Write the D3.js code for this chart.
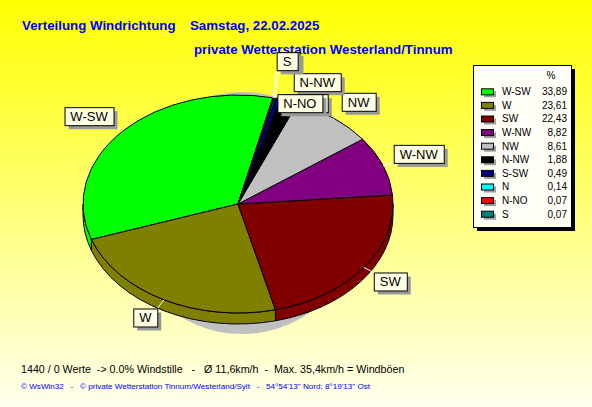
<!DOCTYPE html>
<html><head><meta charset="utf-8">
<script src="https://cdn.jsdelivr.net/npm/d3@7"></script>
<style>html,body{margin:0;padding:0;overflow:hidden;background:#fff}svg{display:block}text{white-space:pre}</style>
</head><body>
<svg id="c" width="592" height="407"></svg>
<script>
// ---- data ----
const categories = ["W-SW","W","SW","W-NW","NW","N-NW","S-SW","N","N-NO","S"];
const values = [33.89,23.61,22.43,8.82,8.61,1.88,0.49,0.14,0.07,0.07];
const colors = ["#00FF00","#808000","#800000","#800080","#C0C0C0","#000000","#000080","#00FFFF","#FF0000","#008080"];
const titleLeft = "Verteilung Windrichtung";
const titleDate = "Samstag, 22.02.2025";
const subtitle = "private Wetterstation Westerland/Tinnum";
const legendHeader = "%";
const footer = "1440 / 0 Werte  -> 0.0% Windstille   -   Ø 11,6km/h  -  Max. 35,4km/h = Windböen";
const copyright = "© WsWin32   -   © private Wetterstation Tinnum/Westerland/Sylt   -   54°54'13\" Nord; 8°19'13\" Ost";

// ---- setup ----
const W = 592, H = 407;
const FONT = "'Liberation Sans', Arial, sans-serif";
const svg = d3.select("#c");
const defs = svg.append("defs");
const grad = defs.append("linearGradient").attr("id","bg").attr("x1",0).attr("y1",0).attr("x2",0).attr("y2",1);
grad.append("stop").attr("offset","0%").attr("stop-color","#FFFF00");
grad.append("stop").attr("offset","100%").attr("stop-color","#FFFFEE");
svg.append("rect").attr("width",W).attr("height",H).attr("fill","url(#bg)");

// titles
svg.append("text").attr("x",22).attr("y",30).attr("font-family",FONT).attr("font-weight","bold")
  .attr("font-size",13.3).attr("fill","#0000FF").text(titleLeft);
svg.append("text").attr("x",190).attr("y",30).attr("font-family",FONT).attr("font-weight","bold")
  .attr("font-size",13.3).attr("fill","#0000FF").text(titleDate);
svg.append("text").attr("x",194).attr("y",54).attr("font-family",FONT).attr("font-weight","bold")
  .attr("font-size",13.3).attr("fill","#0000FF").text(subtitle);

// ---- pie ----
const cx = 238, cy = 204, rx = 155, ry = 109, depth = 11, R = 100;
const start = 13 * Math.PI / 180;
const data = categories.map((c,i)=>({name:c, v:values[i], color:colors[i]}));
const pie = d3.pie().sort(null).value(d=>d.v).startAngle(start).endAngle(start - 2*Math.PI);
const arcs = pie(data);
const arc = d3.arc().innerRadius(0).outerRadius(R);
function P(a, dy=0){ return [cx + rx*Math.sin(a), cy - ry*Math.cos(a) + dy]; }

// shadow
svg.append("ellipse").attr("cx",cx+4).attr("cy",cy+9).attr("rx",120).attr("ry",ry+12).attr("fill","#C0C0C0");

// sides (front half only)
const segs = [];
arcs.forEach(a=>{
  const lo = Math.min(a.startAngle,a.endAngle), hi = Math.max(a.startAngle,a.endAngle);
  for (let k=-2;k<=2;k++){
    const f0 = Math.PI/2 + 2*Math.PI*k, f1 = 3*Math.PI/2 + 2*Math.PI*k;
    const s = Math.max(lo,f0), e = Math.min(hi,f1);
    if (e > s) segs.push({s, e, color:a.data.color});
  }
});
svg.append("g").selectAll("path").data(segs).join("path")
  .attr("d", d=>{
    const p0 = P(d.s), p1 = P(d.e), q1 = P(d.e,depth), q0 = P(d.s,depth);
    return `M${p0}A${rx},${ry} 0 0 1 ${p1}L${q1}A${rx},${ry} 0 0 0 ${q0}Z`;
  })
  .attr("fill", d=>d.color).attr("stroke","#000").attr("stroke-width",1);

// top faces
svg.append("g").attr("transform",`translate(${cx},${cy}) scale(${rx/R},${ry/R})`)
  .selectAll("path").data(arcs).join("path")
  .attr("d", arc).attr("fill", d=>d.data.color)
  .attr("stroke","#000").attr("stroke-width",1).attr("vector-effect","non-scaling-stroke");

// ---- labels ----
const items = arcs.map((a,i)=>{
  const mid = (a.startAngle + a.endAngle)/2;
  const e = P(mid);
  const dx = rx*Math.sin(mid), dy = -ry*Math.cos(mid);
  const len = Math.hypot(dx,dy);
  return {i, name:a.data.name, e, an:[e[0]+11*dx/len, e[1]+11*dy/len]};
});
const meas = svg.append("text").attr("font-family",FONT).attr("font-size",13);
items.forEach(it=>{ meas.text(it.name); it.tw = meas.node().getComputedTextLength(); it.w = Math.round(it.tw) + 12; it.h = 18; });
meas.remove();
function ov(a,b){ const t=1; return a.x < b.x+b.w-t && b.x < a.x+a.w-t && a.y < b.y+b.h-t && b.y < a.y+a.h-t; }
const fixed = []; let moved = 0;
items.forEach(it=>{
  let b = {x: it.an[0] >= cx ? it.an[0] : it.an[0]-it.w, y: it.an[1] < cy ? it.an[1]-it.h : it.an[1], w:it.w, h:it.h};
  let hits = fixed.filter(f=>ov(f,b));
  if (!hits.length){ fixed.push(b); it.box = b; return; }
  let g = 0;
  if (moved % 2 === 0){
    b.y = it.an[1];
    while ((hits = fixed.filter(f=>ov(f,b))).length && g++ < 10) b.y = d3.max(hits, f=>f.y+f.h) + 3;
  } else {
    while (hits.length && g++ < 10){ b.y = d3.min(hits, f=>f.y) - 3 - b.h; hits = fixed.filter(f=>ov(f,b)); }
  }
  moved++;
  it.box = b;
});
items.forEach((it,i)=>{
  const b = it.box;
  const corners = [[b.x,b.y],[b.x+b.w,b.y],[b.x,b.y+b.h],[b.x+b.w,b.y+b.h]];
  it.att = corners.reduce((m,c)=> Math.hypot(c[0]-it.e[0],c[1]-it.e[1]) < Math.hypot(m[0]-it.e[0],m[1]-it.e[1]) ? c : m);
  // text area hidden under a box drawn later?
  const t0 = b.x + b.w/2 - it.tw/2, t1 = b.x + b.w/2 + it.tw/2;
  it.hidden = items.slice(i+1).some(o => o.box && o.box.x <= t0 && o.box.x + o.box.w >= t1 && o.box.y <= b.y + 3 && o.box.y + o.box.h >= b.y + b.h - 3);
});
svg.append("g").selectAll("line").data(items).join("line")
  .attr("x1",d=>d.e[0]).attr("y1",d=>d.e[1]).attr("x2",d=>d.att[0]).attr("y2",d=>d.att[1])
  .attr("stroke","#FFFFFF").attr("stroke-width",1);
const lab = svg.append("g").selectAll("g").data(items).join("g");
lab.append("rect").attr("x",d=>d.box.x+4).attr("y",d=>d.box.y+4).attr("width",d=>d.box.w).attr("height",d=>d.box.h).attr("fill","#999999");
lab.append("rect").attr("x",d=>d.box.x+0.5).attr("y",d=>d.box.y+0.5).attr("width",d=>d.box.w).attr("height",d=>d.box.h)
  .attr("fill","#FFFFE4").attr("stroke","#000").attr("stroke-width",1);
lab.filter(d=>!d.hidden).append("text").attr("x",d=>d.box.x+d.box.w/2).attr("y",d=>d.box.y+d.box.h/2+5).attr("text-anchor","middle")
  .attr("font-family",FONT).attr("font-size",13).attr("fill","#000").text(d=>d.name);

// ---- legend ----
const lx = 473, ly = 65, lw = 98, lh = 162;
svg.append("rect").attr("x",lx+4).attr("y",ly+4).attr("width",lw).attr("height",lh).attr("fill","#000");
svg.append("rect").attr("x",lx+0.5).attr("y",ly+0.5).attr("width",lw).attr("height",lh).attr("fill","#FFFFF8").attr("stroke","#000");
svg.append("text").attr("x",551).attr("y",79).attr("text-anchor","middle").attr("font-family",FONT).attr("font-size",10).text(legendHeader);
const yRow = d3.scaleLinear().domain([0, categories.length-1]).range([91.3, 213.7]);
const fmt = v => d3.format(".2f")(v).replace(".", ",");
const lg = svg.append("g").selectAll("g").data(data).join("g").attr("transform",(d,i)=>`translate(0,${yRow(i)})`);
lg.append("rect").attr("x",484).attr("y",0).attr("width",12).attr("height",6).attr("fill","#A0A0A0");
lg.append("rect").attr("x",481.5).attr("y",-2.5).attr("width",12).attr("height",6).attr("fill",d=>d.color).attr("stroke","#000");
lg.append("text").attr("x",502).attr("y",3.8).attr("font-family",FONT).attr("font-size",10).text(d=>d.name);
lg.append("text").attr("x",567).attr("y",3.8).attr("text-anchor","end").attr("font-family",FONT).attr("font-size",10).text(d=>fmt(d.v));

// ---- footer ----
svg.append("text").attr("x",21).attr("y",373).attr("font-family",FONT).attr("font-size",10.7).attr("fill","#000").text(footer);
svg.append("text").attr("x",21).attr("y",389).attr("font-family",FONT).attr("font-size",8.1).attr("fill","#0000FF").text(copyright);
</script>
</body></html>
